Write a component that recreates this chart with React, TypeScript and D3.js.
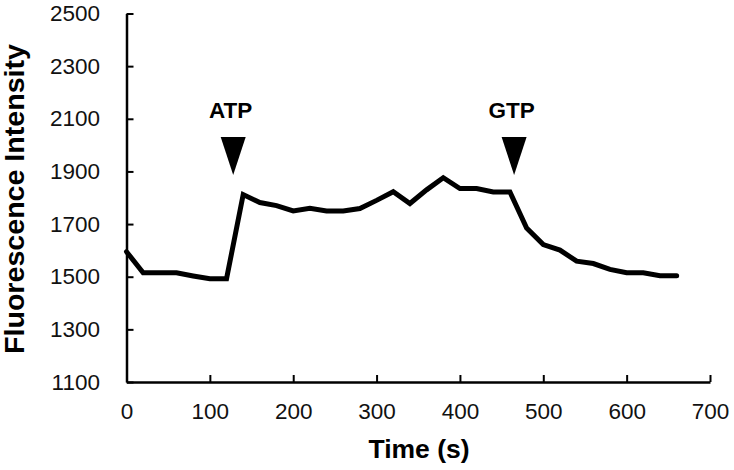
import React, { useEffect, useRef } from 'react';
import * as d3 from 'd3';

const times = [0, 20, 40, 60, 80, 100, 120, 140, 160, 180, 200, 220, 240, 260, 280, 300, 320, 340, 360, 380, 400, 420, 440, 460, 480, 500, 520, 540, 560, 580, 600, 620, 640, 660];
const intensity = [1595, 1515, 1515, 1515, 1503, 1492, 1492, 1812, 1782, 1770, 1750, 1760, 1750, 1750, 1759, 1790, 1823, 1778, 1830, 1876, 1835, 1835, 1822, 1822, 1685, 1622, 1601, 1559, 1550, 1528, 1515, 1515, 1504, 1504];

const xTicks = [0, 100, 200, 300, 400, 500, 600, 700];
const yTicks = [1100, 1300, 1500, 1700, 1900, 2100, 2300, 2500];

const markerLabels = ['ATP', 'GTP'];
const markerTimes = [128, 465];

const App = () => {
  const ref = useRef<SVGSVGElement>(null);

  useEffect(() => {
    const svg = d3.select(ref.current);
    svg.selectAll('*').remove();

    const width = 734;
    const height = 470;
    const left = 126.5;
    const right = 710;
    const top = 13.5;
    const bottom = 382;
    const font = '"Liberation Sans", Arial, sans-serif';

    svg.append('rect').attr('width', width).attr('height', height).attr('fill', '#fff');

    const x = d3.scaleLinear().domain([0, 700]).range([left, right]);
    const y = d3.scaleLinear().domain([1100, 2500]).range([bottom, top]);

    // x axis, ticks pointing up into the plot
    const xAxis = svg.append('g')
      .attr('transform', `translate(0,${bottom})`)
      .call(d3.axisBottom(x).tickValues(xTicks).tickFormat(d3.format('d')).tickSizeInner(-7).tickSizeOuter(0).tickPadding(21));
    xAxis.select('.domain').attr('stroke', '#000').attr('stroke-width', 2.5);
    xAxis.selectAll('.tick line').attr('stroke', '#000').attr('stroke-width', 2);
    xAxis.selectAll('.tick text')
      .attr('font-family', font).attr('font-size', 22.5).attr('fill', '#111');

    // y axis, ticks pointing right
    const yAxis = svg.append('g')
      .attr('transform', `translate(${left},0)`)
      .call(d3.axisLeft(y).tickValues(yTicks).tickFormat(d3.format('d')).tickSizeInner(-7).tickSizeOuter(0).tickPadding(26.5));
    yAxis.select('.domain').attr('stroke', '#000').attr('stroke-width', 2.5);
    yAxis.selectAll('.tick line').attr('stroke', '#000').attr('stroke-width', 2);
    yAxis.selectAll('.tick text')
      .attr('font-family', font).attr('font-size', 22.5).attr('fill', '#111');

    // data line
    const pts = times.map((t, i) => [t, intensity[i]] as [number, number]);
    const line = d3.line<[number, number]>().x((d) => x(d[0])).y((d) => y(d[1]));
    svg.append('path')
      .datum(pts)
      .attr('d', line)
      .attr('fill', 'none')
      .attr('stroke', '#000')
      .attr('stroke-width', 5)
      .attr('stroke-linejoin', 'miter')
      .attr('stroke-linecap', 'round');

    // markers: triangle + label
    markerLabels.forEach((label, i) => {
      const cx = x(markerTimes[i]);
      const triTop = y(2031);
      const triTip = y(1886);
      svg.append('path')
        .attr('d', `M${cx - 12.5},${triTop}L${cx + 12.5},${triTop}L${cx},${triTip}Z`)
        .attr('fill', '#000');
      svg.append('text')
        .attr('x', cx - 2.5)
        .attr('y', triTop - 19)
        .attr('text-anchor', 'middle')
        .attr('font-family', font)
        .attr('font-weight', 'bold')
        .attr('font-size', 22.5)
        .text(label);
    });

    // axis titles
    svg.append('text')
      .attr('x', 419)
      .attr('y', 458)
      .attr('text-anchor', 'middle')
      .attr('font-family', font)
      .attr('font-weight', 'bold')
      .attr('font-size', 26.5)
      .text('Time (s)');

    svg.append('text')
      .attr('transform', `translate(24,199) rotate(-90)`)
      .attr('text-anchor', 'middle')
      .attr('font-family', font)
      .attr('font-weight', 'bold')
      .attr('font-size', 27)
      .attr('textLength', 310)
      .attr('lengthAdjust', 'spacingAndGlyphs')
      .text('Fluorescence Intensity');
  }, []);

  return (
    <svg ref={ref} width={734} height={470} style={{ position: 'absolute', left: 0, top: 0 }} />
  );
};

export default App;
